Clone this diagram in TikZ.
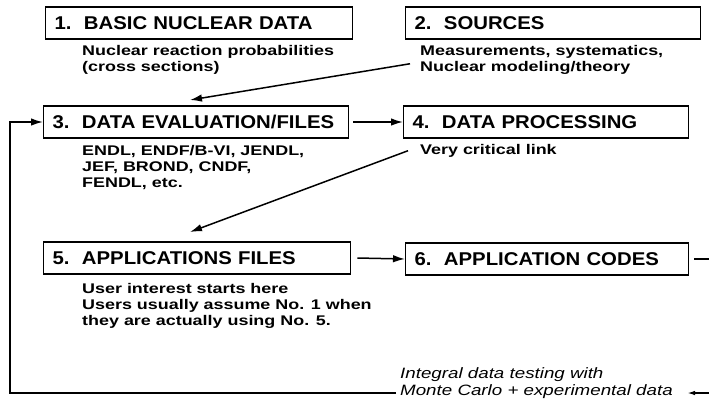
\documentclass[tikz,border=0pt]{standalone}
\usepackage{fontspec}
\setmainfont{Liberation Sans}
\newfontfamily\boxfont[FakeStretch=1.1]{Liberation Sans}
\newfontfamily\notefont[FakeStretch=1.28]{Liberation Sans}
\newfontfamily\testfont[FakeStretch=1.25]{Liberation Sans}
\usetikzlibrary{positioning,arrows.meta}

\begin{document}
\begin{tikzpicture} [x=1pt, y=-1pt, box/.style={rectangle, draw, line width=1.3pt, anchor=west, minimum height=32pt, inner xsep=9pt, align=left, font=\boxfont\fontsize{18.5}{20}\selectfont\bfseries}, note/.style={anchor=north west, align=left, inner sep=0pt, font=\notefont\fontsize{14}{16}\selectfont\bfseries}, link/.style={line width=1.5pt, -{Latex[length=12pt,width=7.5pt]}}]
\useasboundingbox (0,0) rectangle (709,408);
{
	\node [box, text width=289pt] (basic) at (45,23) {1.\ \ BASIC NUCLEAR DATA};
	\node [box, text width=277pt] (sources) at (405,23) {2.\ \ SOURCES};
	\node [box, text width=287pt] (evaluation) at (43,122) {3.\ \ DATA EVALUATION/FILES};
	\node [box, text width=267pt] (processing) at (403,122) {4.\ \ DATA PROCESSING};
	\node [box, text width=289pt] (appfiles) at (43,258) {5.\ \ APPLICATIONS FILES};
	\node [box, text width=265pt] (appcodes) at (405,259) {6.\ \ APPLICATION CODES};

	% notes under the boxes
	\node [note] (basic_note) at (82,45) {Nuclear reaction probabilities\\(cross sections)};
	\node [note] (sources_note) at (420,45) {Measurements, systematics,\\Nuclear modeling/theory};
	\node [note] (evaluation_note) at (82,145) {ENDL, ENDF/B-VI, JENDL,\\JEF, BROND, CNDF,\\FENDL, etc.};
	\node [note] (processing_note) at (420,144) {Very critical link};
	\node [note] (appfiles_note) at (82,283) {User interest starts here\\Users usually assume No. 1 when\\they are actually using No. 5.};
	\node [note, font=\testfont\fontsize{15}{17}\selectfont\itshape] (testing) at (400,367) {Integral data testing with\\Monte Carlo + experimental data};

	% draw edges
	\coordinate (loop_start) at (396,393);
	\coordinate (loop_end) at (687,393);
	\draw [link] (sources_note.west) ++(-10,4) -- (190,100);
	\draw [link] (evaluation.east) ++(4,0) -- (processing.west);
	\draw [link] (processing_note.west) ++(-12,0) -- (190,232);
	\draw [link] (appfiles.east) ++(6,0) -- (appcodes.west);
	\draw [line width=1.5pt] (appcodes.east) ++(5,0) -- (709,259);
	\draw [line width=1.5pt, -{Latex[length=8pt,width=4.5pt]}] (709,393) -- (loop_end);
	\draw [link] (loop_start) -- (10,393) -- (10,122) -- (evaluation.west);
}
\end{tikzpicture}
\end{document}
